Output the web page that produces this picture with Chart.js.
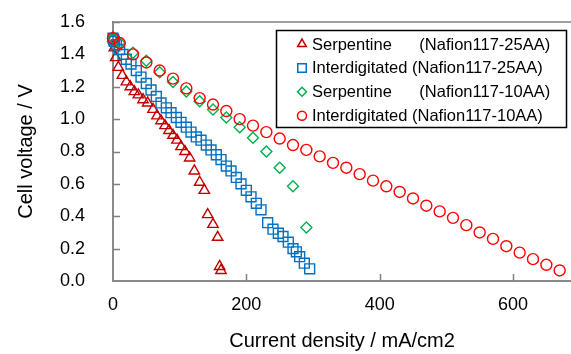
<!DOCTYPE html>
<html>
<head>
<meta charset="utf-8">
<script src="https://cdn.jsdelivr.net/npm/chart.js@4/dist/chart.umd.min.js"></script>
<style>
  html, body { margin: 0; padding: 0; background: #fff; overflow: hidden; }
  #wrap { width: 571px; height: 354px; }
</style>
</head>
<body>
<div id="wrap"><canvas id="ivChart" width="571" height="354"></canvas></div>
<script>
/* polarisation curves, four cell configurations */

const FONT = "'Liberation Sans', Arial, sans-serif";

const xTicks = [0, 200, 400, 600];
const yTicks = [0, 0.2, 0.4, 0.6, 0.8, 1.0, 1.2, 1.4, 1.6];

const legendLabels = [
  "Serpentine      (Nafion117-25AA)",
  "Interdigitated (Nafion117-25AA)",
  "Serpentine      (Nafion117-10AA)",
  "Interdigitated (Nafion117-10AA)",
];

// Serpentine, Nafion117-25AA
const serp25X = [0, 2, 4, 8, 14, 20, 26, 32, 38, 45, 52, 60, 66, 72, 78, 84, 90, 96, 102, 108, 115, 122, 130, 137, 142, 150, 157, 160, 162];
const serp25Y = [1.50, 1.44, 1.38, 1.32, 1.27, 1.23, 1.20, 1.17, 1.15, 1.12, 1.10, 1.06, 1.02, 0.99, 0.96, 0.93, 0.90, 0.87, 0.83, 0.80, 0.76, 0.68, 0.61, 0.56, 0.41, 0.35, 0.27, 0.09, 0.065];

// Interdigitated, Nafion117-25AA
const inter25X = [0, 1, 2, 5, 10, 15, 20, 27, 35, 42, 50, 57, 65, 72, 80, 87, 95, 102, 110, 117, 125, 132, 140, 147, 155, 162, 170, 177, 185, 192, 200, 207, 215, 222, 232, 240, 248, 255, 263, 270, 275, 280, 287, 295];
const inter25Y = [1.50, 1.49, 1.48, 1.46, 1.43, 1.40, 1.37, 1.34, 1.30, 1.26, 1.22, 1.18, 1.14, 1.10, 1.07, 1.04, 1.01, 0.98, 0.95, 0.92, 0.89, 0.87, 0.84, 0.81, 0.78, 0.75, 0.71, 0.68, 0.64, 0.60, 0.56, 0.52, 0.48, 0.44, 0.36, 0.32, 0.295, 0.275, 0.24, 0.20, 0.18, 0.15, 0.11, 0.075];

// Serpentine, Nafion117-10AA
const serp10X = [0, 10, 30, 50, 70, 90, 110, 130, 150, 170, 190, 210, 230, 250, 270, 290];
const serp10Y = [1.50, 1.47, 1.41, 1.36, 1.29, 1.23, 1.17, 1.11, 1.06, 1.01, 0.95, 0.885, 0.80, 0.70, 0.585, 0.33];

// Interdigitated, Nafion117-10AA
const inter10X = [0, 10, 30, 50, 70, 90, 110, 130, 150, 170, 190, 210, 230, 250, 270, 290, 310, 330, 350, 370, 390, 410, 430, 450, 470, 490, 510, 530, 550, 570, 590, 610, 630, 650, 670];
const inter10Y = [1.50, 1.47, 1.40, 1.35, 1.30, 1.25, 1.19, 1.13, 1.09, 1.05, 1.00, 0.96, 0.92, 0.88, 0.84, 0.81, 0.77, 0.73, 0.70, 0.66, 0.62, 0.585, 0.55, 0.51, 0.465, 0.43, 0.39, 0.345, 0.30, 0.26, 0.215, 0.175, 0.135, 0.10, 0.065];

const toPoints = (xs, ys) => xs.map((x, i) => ({ x, y: ys[i] }));

const series = [
  { xs: serp25X,  ys: serp25Y,  color: "#C00000", style: "triangle", r: 6,   lr: 5,   order: 4 },
  { xs: inter25X, ys: inter25Y, color: "#0070C0", style: "rect",     r: 7,   lr: 6,   order: 3 },
  { xs: serp10X,  ys: serp10Y,  color: "#00B050", style: "rectRot",  r: 5.5, lr: 4.5, order: 2 },
  { xs: inter10X, ys: inter10Y, color: "#FF0000", style: "circle",   r: 5.5, lr: 4.5, order: 1 },
];

// keep the plot box where the original has it
const noPad = s => { s.paddingTop = 0; s.paddingBottom = 0; s.paddingLeft = 0; s.paddingRight = 0; };

// plot frame: top line + inward tick marks
const framePlugin = {
  id: "frame",
  beforeDatasetsDraw(chart) {
    const { ctx, chartArea: a, scales } = chart;
    ctx.save();
    ctx.strokeStyle = "#808080";
    ctx.lineWidth = 1.5;
    ctx.beginPath();
    ctx.moveTo(a.left - 1, a.top);
    ctx.lineTo(a.right + 2, a.top);
    yTicks.forEach(v => {
      if (v === 0) return;
      const y = Math.round(scales.y.getPixelForValue(v)) + 0.5;
      ctx.moveTo(a.left, y);
      ctx.lineTo(a.left + 7, y);
    });
    xTicks.forEach(v => {
      if (v === 0) return;
      const x = Math.round(scales.x.getPixelForValue(v)) + 0.5;
      ctx.moveTo(x, a.bottom);
      ctx.lineTo(x, a.bottom - 7);
    });
    ctx.stroke();
    ctx.restore();
  },
};

// boxed legend inside the plot, one entry per row
const legendPlugin = {
  id: "boxLegend",
  afterDraw(chart) {
    const { ctx } = chart;
    const box = { x: 276.5, y: 30.5, w: 290, h: 97 };
    ctx.save();
    ctx.fillStyle = "#fff";
    ctx.fillRect(box.x, box.y, box.w, box.h);
    ctx.strokeStyle = "#000";
    ctx.lineWidth = 1.5;
    ctx.strokeRect(box.x, box.y, box.w, box.h);
    ctx.font = "16.5px " + FONT;
    ctx.textBaseline = "middle";
    series.forEach((s, i) => {
      const cy = 44 + i * 23.9;
      ctx.strokeStyle = s.color;
      ctx.fillStyle = "#fff";
      ctx.lineWidth = 1.5;
      Chart.helpers.drawPoint(ctx, { pointStyle: s.style, radius: s.lr, borderWidth: 1.5 }, 302, cy);
      ctx.fillStyle = "#000";
      ctx.fillText(legendLabels[i], 312, cy + 1);
    });
    ctx.restore();
  },
};

new Chart(document.getElementById("ivChart"), {
  type: "scatter",
  data: {
    datasets: series.map((s, i) => ({
      label: legendLabels[i],
      data: toPoints(s.xs, s.ys),
      showLine: false,
      pointStyle: s.style,
      pointRadius: s.r,
      pointHoverRadius: s.r,
      pointBorderWidth: 1.4,
      pointBorderColor: s.color,
      pointBackgroundColor: "rgba(0,0,0,0)",
      order: s.order,
      clip: false,
    })),
  },
  options: {
    responsive: false,
    animation: false,
    events: [],
    layout: { autoPadding: false, padding: { top: 22, right: 0, left: 0, bottom: 0 } },
    plugins: {
      legend:  { display: false },
      tooltip: { enabled: false },
    },
    scales: {
      x: {
        type: "linear",
        min: 0,
        max: 687,
        afterBuildTicks: s => { s.ticks = xTicks.map(v => ({ value: v })); },
        afterFit: s => { s.height = 73; noPad(s); },
        grid:   { display: false, drawTicks: false },
        border: { display: true, color: "#8a8a8a", width: 2 },
        ticks:  { color: "#000", padding: 13, maxRotation: 0, font: { family: FONT, size: 18 } },
        title:  {
          display: true, text: "Current density / mA/cm2", color: "#000",
          padding: { top: 0, bottom: 1 }, font: { family: FONT, size: 20 },
        },
      },
      y: {
        type: "linear",
        min: 0,
        max: 1.6,
        afterBuildTicks: s => { s.ticks = yTicks.map(v => ({ value: v })); },
        afterFit: s => { s.width = 113; noPad(s); },
        grid:   { display: false, drawTicks: false },
        border: { display: true, color: "#8a8a8a", width: 2 },
        ticks:  {
          color: "#000", padding: 28, font: { family: FONT, size: 18 },
          callback: v => v.toFixed(1),
        },
        title:  {
          display: true, text: "Cell voltage / V", color: "#000",
          padding: { top: 14, bottom: 0 }, font: { family: FONT, size: 20 },
        },
      },
    },
  },
  plugins: [framePlugin, legendPlugin],
});
</script>
</body>
</html>
